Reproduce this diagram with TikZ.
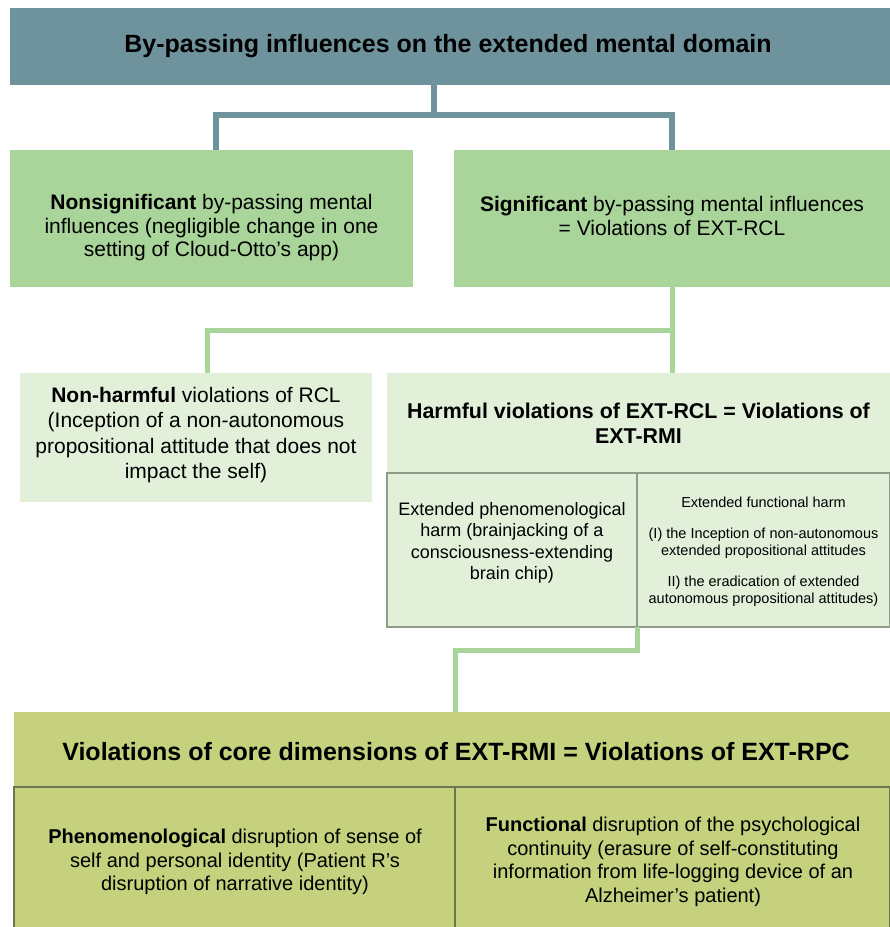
\documentclass[tikz,border=0pt]{standalone}
\usepackage{fontspec}
\setmainfont{Liberation Sans}
\definecolor{slate}{HTML}{6F939C}
\definecolor{midgreen}{HTML}{A9D49A}
\definecolor{palegreen}{HTML}{E2F0DA}
\definecolor{olive}{HTML}{C5D17C}
\definecolor{subline}{HTML}{8E9C89}
\definecolor{oliveline}{HTML}{6B7552}
\begin{document}
\begin{tikzpicture}[x=1pt,y=-1pt,
  box/.style={anchor=north west, inner sep=0pt, outer sep=0pt, draw=none},
  txt/.style={align=center, inner sep=0pt, text=black},
  topline/.style={draw=slate, line width=6pt},
  greenline/.style={draw=midgreen, line width=5pt}]
\useasboundingbox (0,0) rectangle (890,927);
\fill[white] (0,0) rectangle (890,927);

% level 1
\node[box, fill=slate, minimum width=880pt, minimum height=77pt] (title) at (10,8) {};
\node[txt, font=\fontsize{25}{29}\selectfont\bfseries] (titleT) at (448,46) {By-passing influences on the extended mental domain};

% level 2
\node[box, fill=midgreen, minimum width=403pt, minimum height=137pt] (ns) at (10,150) {};
\node[box, fill=midgreen, minimum width=436pt, minimum height=137pt] (sig) at (454,150) {};
\node[txt, font=\fontsize{21}{23.5}\selectfont] (nsT) at (211.5,228) {\textbf{Nonsignificant} by-passing mental\\influences (negligible change in one\\setting of Cloud-Otto's app)};
\node[txt, font=\fontsize{21}{23.5}\selectfont] (sigT) at (672,216) {\textbf{Significant} by-passing mental influences\\= Violations of EXT-RCL};

% level 3
\node[box, fill=palegreen, minimum width=352pt, minimum height=129pt] (nh) at (20,373) {};
\node[txt, font=\fontsize{21}{25.5}\selectfont] (nhT) at (196,435) {\textbf{Non-harmful} violations of RCL\\(Inception of a non-autonomous\\propositional attitude that does not\\impact the self)};
\node[box, fill=palegreen, minimum width=503pt, minimum height=254pt] (harm) at (387,373) {};
\node[txt, font=\fontsize{21.4}{25}\selectfont\bfseries] (harmT) at (638.5,423) {Harmful violations of EXT-RCL = Violations of\\EXT-RMI};
\node[box, draw=subline, line width=1.5pt, minimum width=250pt, minimum height=154pt] (harmA) at (387,473) {};
\node[box, draw=subline, line width=1.5pt, minimum width=253pt, minimum height=154pt] (harmB) at (637,473) {};
\node[txt, font=\fontsize{18}{21.5}\selectfont] (harmAT) at (512,543) {Extended phenomenological\\harm (brainjacking of a\\consciousness-extending\\brain chip)};
\node[txt, font=\fontsize{14.5}{17}\selectfont] (harmBT) at (763.5,552) {Extended functional harm\\[14pt](I) the Inception of non-autonomous\\extended propositional attitudes\\[14pt]II) the eradication of extended\\autonomous propositional attitudes)};

% level 4
\node[box, fill=olive, minimum width=876pt, minimum height=215pt] (core) at (14,712) {};
\node[txt, font=\fontsize{25}{29}\selectfont\bfseries] (coreT) at (456,752) {Violations of core dimensions of EXT-RMI = Violations of EXT-RPC};
\node[box, draw=oliveline, line width=1.5pt, minimum width=441pt, minimum height=145pt] (coreA) at (14,787) {};
\node[box, draw=oliveline, line width=1.5pt, minimum width=435pt, minimum height=145pt] (coreB) at (455,787) {};
\node[txt, font=\fontsize{20}{23.5}\selectfont] (coreAT) at (235,862) {\textbf{Phenomenological} disruption of sense of\\self and personal identity (Patient R's\\disruption of narrative identity)};
\node[txt, font=\fontsize{20}{23.5}\selectfont] (coreBT) at (673,862) {\textbf{Functional} disruption of the psychological\\continuity (erasure of self-constituting\\information from life-logging device of an\\Alzheimer's patient)};

% connectors
\draw[topline] ([xshift=-16pt]title.south) -- ++(0,30) coordinate (j1);
\draw[topline] ([xshift=4.5pt]ns.north) |- (j1) -| (sig.north);
\draw[greenline] (sig.south) -- (sig.south |- harm.north);
\draw[greenline] (sig.south) ++(0,43) -| ([xshift=11pt]nh.north);
\draw[greenline] (harmA.south east) -- ++(0,23) -| ([xshift=3pt]core.north);
\end{tikzpicture}
\end{document}
